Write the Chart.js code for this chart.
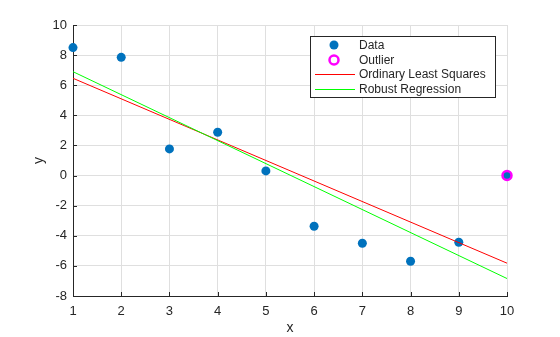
<!DOCTYPE html>
<html><head><meta charset="utf-8">
<script src="https://cdn.jsdelivr.net/npm/chart.js@4"></script>
<style>html,body{margin:0;padding:0;background:#fff}#wrap{width:560px;height:337px}</style>
</head><body><div id="wrap"><canvas id="c" width="560" height="337"></canvas></div>
<script>
const xValues = [1, 2, 3, 4, 5, 6, 7, 8, 9, 10];
const yValues = [8.5, 7.85, 1.77, 2.88, 0.31, -3.37, -4.5, -5.69, -4.43, 0];
const outlierX = [10];
const outlierY = [0];
const olsX = [1, 10];
const olsY = [6.46, -5.82];
const robustX = [1, 10];
const robustY = [6.9, -6.84];
const legendLabels = ['Data', 'Outlier', 'Ordinary Least Squares', 'Robust Regression'];

const FONT = '"Liberation Sans", Arial, sans-serif';
const pts = (xs, ys) => xs.map((x, i) => ({x: x, y: ys[i]}));

const legendPlugin = {
  id: 'boxLegend',
  afterDraw(chart) {
    const ctx = chart.ctx;
    const ds = chart.data.datasets;
    ctx.save();
    ctx.fillStyle = '#fff';
    ctx.fillRect(310.5, 36.5, 185, 61);
    ctx.strokeStyle = '#262626';
    ctx.lineWidth = 1;
    ctx.strokeRect(310.5, 36.5, 185, 61);
    const rows = [45, 60, 74, 89];
    ctx.font = '12px ' + FONT;
    ctx.textBaseline = 'middle';
    ds.forEach((d, i) => {
      const y = rows[i];
      if (d.showLine) {
        ctx.strokeStyle = d.borderColor;
        ctx.lineWidth = 1;
        ctx.beginPath(); ctx.moveTo(315, y + 0.5); ctx.lineTo(355, y + 0.5); ctx.stroke();
      } else {
        ctx.beginPath(); ctx.arc(334, y, d.pointRadius, 0, Math.PI * 2);
        if (d.pointBackgroundColor !== 'rgba(0,0,0,0)') { ctx.fillStyle = d.pointBackgroundColor; ctx.fill(); }
        if (d.pointBorderWidth > 0) { ctx.lineWidth = d.pointBorderWidth; ctx.strokeStyle = d.pointBorderColor; ctx.stroke(); }
      }
      ctx.fillStyle = '#262626';
      ctx.fillText(d.label, 359, y + 0.5);
    });
    ctx.restore();
  }
};

const tickPlugin = {
  id: 'innerTicks',
  afterDatasetsDraw(chart) {
    const ctx = chart.ctx;
    const xs = chart.scales.x, ys = chart.scales.y;
    const a = chart.chartArea;
    ctx.save();
    ctx.strokeStyle = '#262626';
    ctx.lineWidth = 1;
    ctx.beginPath();
    xs.ticks.forEach(t => { const px = Math.round(xs.getPixelForValue(t.value)) + 0.5; ctx.moveTo(px, a.bottom); ctx.lineTo(px, a.bottom - 4); });
    ys.ticks.forEach(t => { const py = Math.round(ys.getPixelForValue(t.value)) + 0.5; ctx.moveTo(a.left, py); ctx.lineTo(a.left + 4, py); });
    ctx.stroke();
    ctx.restore();
  }
};

new Chart(document.getElementById('c'), {
  type: 'scatter',
  data: {
    datasets: [
      { label: legendLabels[0], data: pts(xValues, yValues), showLine: false,
        pointRadius: 4.5, pointBackgroundColor: '#0072BD', pointBorderColor: '#0072BD', pointBorderWidth: 0, order: 3 },
      { label: legendLabels[1], data: pts(outlierX, outlierY), showLine: false,
        pointRadius: 4.5, pointBackgroundColor: 'rgba(0,0,0,0)', pointBorderColor: '#FF00FF', pointBorderWidth: 2.5, order: 2 },
      { label: legendLabels[2], data: pts(olsX, olsY), showLine: true, borderColor: '#FF0000', borderWidth: 1,
        pointRadius: 0, fill: false, order: 1 },
      { label: legendLabels[3], data: pts(robustX, robustY), showLine: true, borderColor: '#00FF00', borderWidth: 1,
        pointRadius: 0, fill: false, order: 0 }
    ]
  },
  options: {
    responsive: false,
    animation: false,
    devicePixelRatio: 1,
    clip: false,
    layout: { padding: { top: 25, right: 53, left: 31, bottom: 0 } },
    plugins: { legend: { display: false }, tooltip: { enabled: false } },
    scales: {
      x: {
        type: 'linear', min: 1, max: 10,
        ticks: { stepSize: 1, color: '#262626', font: { family: FONT, size: 13 }, padding: 8 },
        grid: { color: '#dfdfdf', drawTicks: false },
        border: { color: '#262626', width: 1 },
        title: { display: true, text: 'x', color: '#262626', font: { family: FONT, size: 14 }, padding: { top: 4, bottom: 0 } },
        afterFit(s) { s.height = 41; }
      },
      y: {
        type: 'linear', min: -8, max: 10,
        ticks: { stepSize: 2, color: '#262626', font: { family: FONT, size: 13 }, padding: 6 },
        grid: { color: '#dfdfdf', drawTicks: false },
        border: { color: '#262626', width: 1 },
        title: { display: true, text: 'y', color: '#262626', font: { family: FONT, size: 14 }, padding: { top: 0, bottom: 4 } },
        afterFit(s) { s.width = 42; }
      }
    }
  },
  plugins: [tickPlugin, legendPlugin]
});
</script></body></html>
